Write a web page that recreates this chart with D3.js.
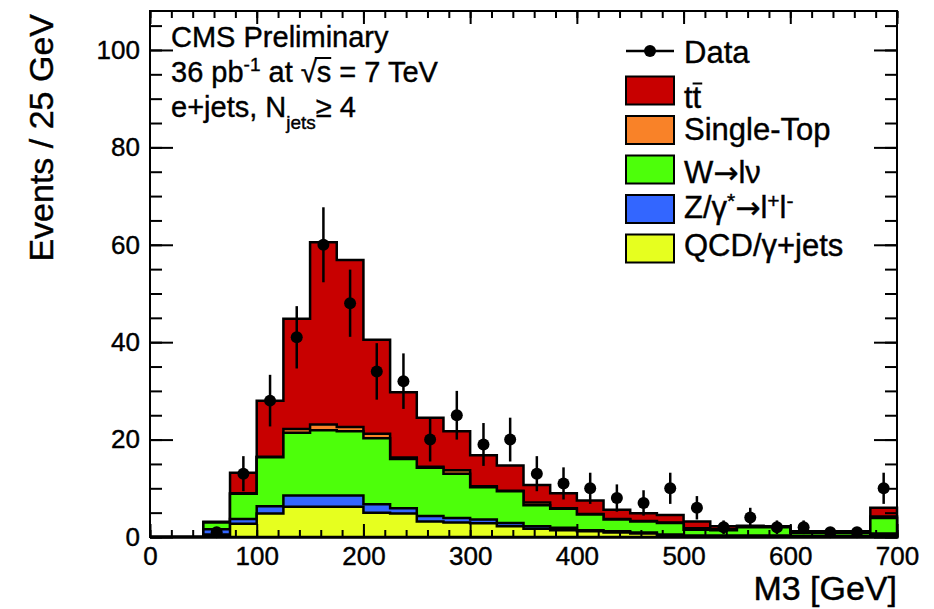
<!DOCTYPE html>
<html>
<head>
<meta charset="utf-8">
<script src="https://d3js.org/d3.v7.min.js"></script>
<style>
  body { margin: 0; background: #fff; }
  svg text { font-family: "Liberation Sans", Arial, Helvetica, sans-serif; fill: #000; stroke: #000; stroke-width: 0.4px; }
</style>
</head>
<body>
<svg id="chart" width="934" height="609"></svg>
<script>
// lower edge of each 25 GeV bin of M3
const binLow = [0, 25, 50, 75, 100, 125, 150, 175, 200, 225, 250, 275, 300, 325,
                350, 375, 400, 425, 450, 475, 500, 525, 550, 575, 600, 625, 650, 675];
const binWidth = 25;

// simulated contributions per bin (events / 25 GeV), bottom of the stack first
const qcd       = [0, 0, 0.5, 2.7, 4.8, 6.2, 6.2, 6.2, 5.0, 4.8, 3.2, 3.0, 2.8, 2.2,
                   1.7, 1.4, 1.2, 0.9, 0.7, 0.2, 0.1, 0.1, 0.1, 0.1, 0.1, 0.1, 0.1, 0.5];
const zjets     = [0, 0, 1.1, 1.0, 1.5, 2.3, 2.3, 2.3, 1.7, 1.1, 1.1, 0.9, 0.8, 0.7,
                   0.5, 0.5, 0.2, 0.3, 0.2, 0.3, 0.2, 0.2, 0.2, 0.2, 0.1, 0.1, 0.1, 0.2];
const wjets     = [0, 0, 1.4, 5.2, 10.1, 12.9, 13.4, 13.2, 13.6, 10.1, 9.9, 9.1, 6.6, 6.5,
                   4.3, 3.9, 3.2, 2.4, 2.3, 2.4, 1.2, 1.1, 1.7, 1.7, 0.6, 0.6, 0.6, 3.2];
const singleTop = [0, 0, 0.05, 0.1, 0.1, 0.8, 1.2, 0.9, 0.9, 0.3, 0.2, 0.7, 0.2, 0.1,
                   0.6, 0.1, 0.1, 0.1, 0.1, 0.1, 0.3, 0.2, 0.1, 0.1, 0.1, 0.1, 0.1, 0.3];
const ttbar     = [0, 0, 0.1, 4.2, 11.5, 22.6, 37.4, 34.3, 19.3, 13.4, 10.1, 8.0, 6.4, 5.2,
                   3.6, 3.1, 2.8, 1.9, 1.6, 1.5, 1.4, 0.6, 0.2, 0.1, 0.3, 0.3, 0.3, 1.8];

// observed events and their error bars
const dataCounts = [0, 0, 1, 13, 28, 41, 60, 48, 34, 32, 20, 25, 19, 20,
                    13, 11, 10, 8, 7, 10, 6, 2, 4, 2, 2, 1, 1, 10];
const dataErrors = [0, 0, 1, 3.6, 5.3, 6.4, 7.7, 6.9, 5.8, 5.7, 4.5, 5, 4.4, 4.5,
                    3.6, 3.3, 3.2, 2.8, 2.6, 3.2, 2.4, 1.4, 2, 1.4, 1.4, 1, 1, 3.2];

const xTicks = [0, 100, 200, 300, 400, 500, 600, 700];
const yTicks = [0, 20, 40, 60, 80, 100];

const svg = d3.select("#chart");
const padLeft = 150, padRight = 897, padTop = 11, padBottom = 537;

const x = d3.scaleLinear().domain([0, 700]).range([padLeft, padRight]);
const y = d3.scaleLinear().domain([0, 108]).range([padBottom, padTop]);

// stack the backgrounds
const keys = ["qcd", "zjets", "wjets", "singleTop", "ttbar"];
const colors = { qcd: "#e6ff1f", zjets: "#3366ff", wjets: "#4dff0a", singleTop: "#f98228", ttbar: "#c80000" };
const table = binLow.map((b, i) => ({
    qcd: qcd[i], zjets: zjets[i], wjets: wjets[i], singleTop: singleTop[i], ttbar: ttbar[i]
}));
const series = d3.stack().keys(keys)(table);

function stepPath(s) {
    const p = d3.path();
    p.moveTo(x(binLow[0]), y(0));
    s.forEach((d, i) => {
        p.lineTo(x(binLow[i]), y(d[1]));
        p.lineTo(x(binLow[i] + binWidth), y(d[1]));
    });
    p.lineTo(x(binLow[binLow.length - 1] + binWidth), y(0));
    p.closePath();
    return p.toString();
}

// draw the cumulative histograms from the top down
series.slice().reverse().forEach(s => {
    svg.append("path")
        .attr("d", stepPath(s))
        .attr("fill", colors[s.key])
        .attr("stroke", "#000")
        .attr("stroke-width", 2.5);
});

// data points
const pts = svg.append("g");
dataCounts.forEach((n, i) => {
    if (n <= 0) return;
    const cx = x(binLow[i] + binWidth / 2);
    pts.append("line")
        .attr("x1", cx).attr("x2", cx)
        .attr("y1", y(n - dataErrors[i])).attr("y2", y(n + dataErrors[i]))
        .attr("stroke", "#000").attr("stroke-width", 2.5);
    pts.append("circle")
        .attr("cx", cx).attr("cy", y(n)).attr("r", 6)
        .attr("fill", "#000");
});

// axes, ticks pointing inwards on all four sides
function styleAxis(g) {
    g.select(".domain").remove();
    g.selectAll(".tick line").attr("stroke", "#000").attr("stroke-width", 2);
    g.selectAll(".tick text").attr("font-size", 26).attr("fill", "#000")
        .attr("font-family", "Liberation Sans, Arial, sans-serif");
}
const xMinor = d3.range(0, 701, 20);
const yMinor = d3.range(0, 108, 5);

svg.append("g").attr("transform", "translate(0," + padBottom + ")")
    .call(d3.axisBottom(x).tickValues(xMinor).tickSize(-7).tickFormat("")).call(styleAxis);
svg.append("g").attr("transform", "translate(0," + padBottom + ")")
    .call(d3.axisBottom(x).tickValues(xTicks).tickSize(-13).tickPadding(10).tickFormat(d3.format("d")))
    .call(styleAxis);
svg.append("g").attr("transform", "translate(0," + padTop + ")")
    .call(d3.axisTop(x).tickValues(xMinor).tickSize(-7).tickFormat("")).call(styleAxis);
svg.append("g").attr("transform", "translate(0," + padTop + ")")
    .call(d3.axisTop(x).tickValues(xTicks).tickSize(-13).tickFormat("")).call(styleAxis);

svg.append("g").attr("transform", "translate(" + padLeft + ",0)")
    .call(d3.axisLeft(y).tickValues(yMinor).tickSize(-12).tickFormat("")).call(styleAxis);
svg.append("g").attr("transform", "translate(" + padLeft + ",0)")
    .call(d3.axisLeft(y).tickValues(yTicks).tickSize(-23).tickPadding(10).tickFormat(d3.format("d")))
    .call(styleAxis);
svg.append("g").attr("transform", "translate(" + padRight + ",0)")
    .call(d3.axisRight(y).tickValues(yMinor).tickSize(-12).tickFormat("")).call(styleAxis);
svg.append("g").attr("transform", "translate(" + padRight + ",0)")
    .call(d3.axisRight(y).tickValues(yTicks).tickSize(-23).tickFormat("")).call(styleAxis);

svg.append("rect")
    .attr("x", padLeft).attr("y", padTop)
    .attr("width", padRight - padLeft).attr("height", padBottom - padTop)
    .attr("fill", "none").attr("stroke", "#000").attr("stroke-width", 2);

// axis titles
svg.append("text")
    .attr("x", padRight).attr("y", 600)
    .attr("text-anchor", "end").attr("font-size", 34)
    .text("M3 [GeV]");
svg.append("text")
    .attr("transform", "translate(53,14) rotate(-90)")
    .attr("text-anchor", "end").attr("font-size", 34)
    .text("Events / 25 GeV");

// info text
const info = svg.append("g").attr("font-size", 29);
info.append("text").attr("x", 171).attr("y", 47).text("CMS Preliminary");
const l2 = info.append("text").attr("x", 171).attr("y", 82);
l2.append("tspan").text("36 pb");
l2.append("tspan").attr("dy", -11).attr("font-size", 19).text("-1");
l2.append("tspan").attr("dy", 11).text(" at \u221A");
l2.append("tspan").text("s");
l2.append("tspan").text(" = 7 TeV");
// bar over the s of sqrt(s)
const l2n = l2.node();
const sIdx = "36 pb-1 at \u221A".length;
info.append("line")
    .attr("x1", l2n.getStartPositionOfChar(sIdx - 1).x + 14).attr("x2", l2n.getEndPositionOfChar(sIdx).x)
    .attr("y1", 82 - 24).attr("y2", 82 - 24)
    .attr("stroke", "#000").attr("stroke-width", 2);
const l3 = info.append("text").attr("x", 171).attr("y", 117);
l3.append("tspan").text("e+jets, N");
l3.append("tspan").attr("dy", 12).attr("font-size", 19).text("jets");
l3.append("tspan").attr("dy", -12).text("\u2265 4");

// legend
const legend = svg.append("g").attr("font-size", 31);
const legY0 = 51, legStep = 39.5, boxX = 626, boxW = 48, boxH = 28, textX = 684;
legend.append("line")
    .attr("x1", boxX).attr("x2", boxX + boxW).attr("y1", legY0).attr("y2", legY0)
    .attr("stroke", "#000").attr("stroke-width", 2.5);
legend.append("circle").attr("cx", boxX + boxW / 2).attr("cy", legY0).attr("r", 6).attr("fill", "#000");
legend.append("text").attr("x", textX).attr("y", legY0 + 12).text("Data");

const legKeys = ["ttbar", "singleTop", "wjets", "zjets", "qcd"];
const legOffsets = [17, 10, 13, 9, 7];
const arrowFont = "DejaVu Sans";
legKeys.forEach((k, i) => {
    const cy = legY0 + legStep * (i + 1);
    const base = cy + legOffsets[i];
    legend.append("rect")
        .attr("x", boxX).attr("y", cy - boxH / 2)
        .attr("width", boxW).attr("height", boxH)
        .attr("fill", colors[k]).attr("stroke", "#000").attr("stroke-width", 2);
    const t = legend.append("text").attr("x", textX).attr("y", base);
    if (k === "ttbar") {
        t.text("tt");
        const n = t.node();
        legend.append("line")
            .attr("x1", n.getStartPositionOfChar(1).x).attr("x2", n.getEndPositionOfChar(1).x + 1)
            .attr("y1", base - 24).attr("y2", base - 24)
            .attr("stroke", "#000").attr("stroke-width", 2);
    } else if (k === "singleTop") {
        t.text("Single-Top");
    } else if (k === "wjets") {
        t.append("tspan").text("W");
        t.append("tspan").attr("font-family", arrowFont).attr("font-size", 30).text("\u2192");
        t.append("tspan").text("l\u03BD");
    } else if (k === "zjets") {
        t.append("tspan").text("Z/\u03B3");
        t.append("tspan").attr("dy", -10).attr("font-size", 21).text("*");
        t.append("tspan").attr("dy", 10).attr("font-family", arrowFont).attr("font-size", 30).text("\u2192");
        t.append("tspan").text("l");
        t.append("tspan").attr("dy", -10).attr("font-size", 21).text("+");
        t.append("tspan").attr("dy", 10).text("l");
        t.append("tspan").attr("dy", -10).attr("font-size", 21).text("-");
    } else {
        t.text("QCD/\u03B3+jets");
    }
});
</script>
</body>
</html>
